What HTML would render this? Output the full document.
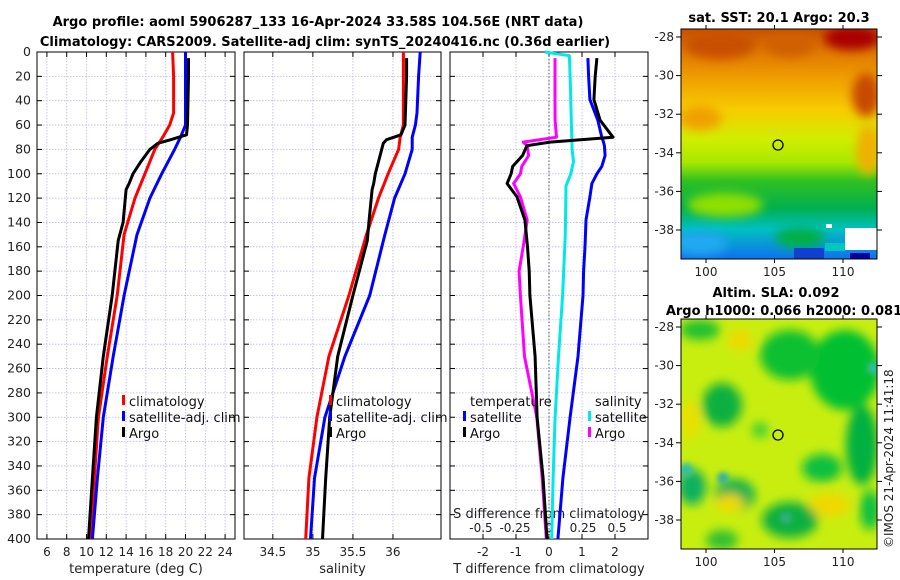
<!DOCTYPE html>
<html><head><meta charset="utf-8">
<style>
html,body{margin:0;padding:0;background:#fff;}
svg{display:block;font-family:"DejaVu Sans","Liberation Sans",sans-serif;}
.t{font-size:13px;font-weight:bold;fill:#000;}
.tk{font-size:12px;fill:#222;}
.lg{font-size:13px;fill:#111;}
</style></head>
<body>
<svg id="c" width="900" height="580" viewBox="0 0 900 580">
<defs>
<filter id="bl" x="-20%" y="-20%" width="140%" height="140%"><feGaussianBlur stdDeviation="5"/></filter>
<filter id="bl2" x="-20%" y="-20%" width="140%" height="140%"><feGaussianBlur stdDeviation="3"/></filter>
<linearGradient id="sst" x1="0" y1="0" x2="0" y2="1">
<stop offset="0" stop-color="#c85000"/><stop offset="0.1" stop-color="#e07800"/>
<stop offset="0.22" stop-color="#f0a000"/><stop offset="0.35" stop-color="#f8cc00"/>
<stop offset="0.48" stop-color="#d0ee00"/><stop offset="0.58" stop-color="#a8e800"/>
<stop offset="0.66" stop-color="#30c020"/><stop offset="0.78" stop-color="#00b050"/>
<stop offset="0.87" stop-color="#00c0c0"/><stop offset="1" stop-color="#1070f0"/>
</linearGradient>
<clipPath id="m1"><rect x="681" y="29" width="196" height="230"/></clipPath>
<clipPath id="m2"><rect x="681" y="319" width="196" height="230"/></clipPath>
</defs>
<text class="t" x="318" y="26" text-anchor="middle">Argo profile: aoml 5906287_133 16-Apr-2024 33.58S 104.56E (NRT data)</text>
<text class="t" x="325" y="46" text-anchor="middle">Climatology: CARS2009. Satellite-adj clim: synTS_20240416.nc (0.36d earlier)</text>

<g id="map1">
<g clip-path="url(#m1)">
<rect x="681" y="29" width="196" height="230" fill="url(#sst)"/>
<g filter="url(#bl)">
<ellipse cx="720" cy="45" rx="35" ry="14" fill="#c85000"/>
<ellipse cx="790" cy="45" rx="25" ry="12" fill="#d06000"/>
<ellipse cx="852" cy="38" rx="28" ry="12" fill="#a80000"/>
<ellipse cx="866" cy="95" rx="14" ry="22" fill="#c84800"/>
<ellipse cx="700" cy="118" rx="22" ry="12" fill="#f0a000"/>
<ellipse cx="868" cy="150" rx="12" ry="25" fill="#f0b000"/>
<ellipse cx="725" cy="205" rx="38" ry="12" fill="#90e000"/>
<ellipse cx="700" cy="243" rx="28" ry="12" fill="#20a8f0"/>
<ellipse cx="800" cy="238" rx="25" ry="10" fill="#00b040"/>
</g>
<rect x="794" y="248" width="30" height="11" fill="#1040d0"/>
<rect x="850" y="253" width="20" height="6" fill="#0000a0"/>
<rect x="845" y="228" width="32" height="22" fill="#ffffff"/>
<rect x="825" y="243" width="20" height="8" fill="#00c8c0"/>
<rect x="826" y="224" width="6" height="4" fill="#fff"/>
</g>
<rect x="681" y="29" width="196" height="230" fill="none" stroke="#000" stroke-width="1"/>
<circle cx="778" cy="145" r="5" fill="none" stroke="#000" stroke-width="1.3"/>
</g>
<text class="t" x="779" y="22" text-anchor="middle">sat. SST: 20.1 Argo: 20.3</text>

<g id="map2">
<g clip-path="url(#m2)">
<rect x="681" y="319" width="196" height="230" fill="#c8ee10"/>
<g filter="url(#bl)">
<ellipse cx="845" cy="370" rx="35" ry="40" fill="#00c030"/>
<ellipse cx="790" cy="355" rx="30" ry="25" fill="#10c030"/>
<ellipse cx="700" cy="330" rx="20" ry="10" fill="#20c030"/>
<ellipse cx="722" cy="405" rx="20" ry="22" fill="#10b040"/>
<ellipse cx="862" cy="445" rx="16" ry="40" fill="#00b040"/>
<ellipse cx="692" cy="487" rx="14" ry="18" fill="#10b060"/>
<ellipse cx="735" cy="495" rx="20" ry="16" fill="#10b050"/>
<ellipse cx="790" cy="520" rx="28" ry="18" fill="#10b040"/>
<ellipse cx="822" cy="468" rx="20" ry="14" fill="#10c040"/>
<ellipse cx="760" cy="430" rx="8" ry="8" fill="#40d030"/>
<ellipse cx="722" cy="540" rx="16" ry="10" fill="#30c030"/>
<ellipse cx="870" cy="510" rx="10" ry="20" fill="#10c040"/>
<ellipse cx="740" cy="340" rx="12" ry="10" fill="#f0d800"/>
<ellipse cx="830" cy="505" rx="20" ry="12" fill="#f0d800"/>
<ellipse cx="730" cy="503" rx="14" ry="9" fill="#f0d800"/>
<ellipse cx="690" cy="420" rx="10" ry="20" fill="#e8e000"/>
</g>
<g filter="url(#bl2)">
<circle cx="686" cy="470" r="7" fill="#30c0a0"/>
<circle cx="723" cy="478" r="6" fill="#30b0a0"/>
<circle cx="786" cy="518" r="6" fill="#30b080"/>
<circle cx="873" cy="368" r="6" fill="#30c0a0"/>
</g>
</g>
<rect x="681" y="319" width="196" height="230" fill="none" stroke="#000" stroke-width="1"/>
<circle cx="778" cy="435" r="5" fill="none" stroke="#000" stroke-width="1.3"/>
</g>
<text class="t" x="776" y="297" text-anchor="middle">Altim. SLA: 0.092</text>
<text class="t" x="784" y="315" text-anchor="middle">Argo h1000: 0.066 h2000: 0.081</text>
<text x="893" y="548" transform="rotate(-90 893 548)" style="font-size:12px;fill:#222">©IMOS 21-Apr-2024 11:41:18</text>
</svg>
<script>
// ---------- data ----------
const depthTicks = [0,20,40,60,80,100,120,140,160,180,200,220,240,260,280,300,320,340,360,380,400];
const tempTicks = [6,8,10,12,14,16,18,20,22,24];
const salTicks = [34.5,35,35.5,36];
const tdiffTicks = [-2,-1,0,1,2];
const sdiffTicks = [-0.5,-0.25,0,0.25,0.5];
const sdiffTickLabels = ["-0.5","-0.25","0","0.25","0.5"];
const latTicks = [-28,-30,-32,-34,-36,-38];
const lonTicks = [100,105,110];

const argoDepth = [5,20,40,60,68,72,75,80,90,100,108,113,140,155,200,250,300,350,400];
const argoTemp  = [20.3,20.3,20.25,20.2,20.1,18.5,17.2,16.4,15.5,14.7,14.3,14.0,13.7,13.2,12.6,11.7,11.0,10.6,10.2];
const climDepth = [0,20,50,60,70,80,100,120,150,200,250,300,350,400];
const climTemp  = [18.7,18.8,18.8,18.4,17.7,16.9,15.9,14.9,13.8,13.1,12.1,11.2,10.8,10.4];
const satTemp   = [20.0,20.0,20.0,20.0,19.5,18.9,17.6,16.4,15.1,13.8,12.7,11.7,11.1,10.6];

const argoSal = [36.17,36.17,36.16,36.15,36.1,35.92,35.88,35.86,35.82,35.78,35.76,35.74,35.7,35.68,35.5,35.31,35.21,35.16,35.12];
const climSal = [36.13,36.13,36.13,36.13,36.09,36.07,35.94,35.82,35.67,35.45,35.2,35.05,34.95,34.91];
const satSal  = [36.34,36.32,36.3,36.28,36.24,36.24,36.15,36.02,35.9,35.71,35.4,35.15,35.02,34.97];

const dDepth = [5,20,39,56,70,74,77,85,94,100,108,119,138,160,180,200,250,300,350,400];
const argoTdiff = [1.45,1.4,1.36,1.55,1.94,0.03,-0.67,-0.8,-1.1,-1.15,-1.27,-0.97,-0.73,-0.65,-0.6,-0.58,-0.42,-0.36,-0.18,-0.06];
const satTdiff  = [1.18,1.2,1.24,1.48,1.6,1.65,1.68,1.7,1.6,1.45,1.3,1.24,1.12,1.09,1.05,1.03,0.88,0.64,0.42,0.27];
const argoSdiff = [0.044,0.044,0.044,0.045,0.055,-0.19,-0.16,-0.15,-0.2,-0.21,-0.26,-0.21,-0.16,-0.19,-0.22,-0.21,-0.18,-0.09,-0.05,-0.02];
const satSdiffDepth = [0,3,20,40,60,80,90,100,110,150,200,250,300,350,400];
const satSdiff  = [-0.03,0.15,0.155,0.16,0.165,0.17,0.18,0.16,0.125,0.12,0.1,0.07,0.045,0.03,0.02];

// ---------- drawing ----------
const NS='http://www.w3.org/2000/svg';
const svg=document.getElementById('c');
function mk(tag,at,parent){const e=document.createElementNS(NS,tag);for(const k in at)e.setAttribute(k,at[k]);(parent||svg).appendChild(e);return e;}
const Y0=52,Y1=539;
const yD=d=>Y0+(d/400)*(Y1-Y0);
function lin(d0,d1,p0,p1){return v=>p0+(v-d0)/(d1-d0)*(p1-p0);}
const xT=lin(5,25,37,235);
const xS=lin(34.14,36.6,244,441);
const xTd=lin(-3,3,450,648);
const xSd=lin(-0.728,0.728,450,648);

function panel(name,x0,x1,xs,ticks,labels,xlabel,labelY){
  const g=mk('g',{});
  
  
  ticks.forEach(t=>{const x=xs(t);mk('line',{x1:x,x2:x,y1:Y0,y2:Y1,stroke:'#b8bce0','stroke-width':0.8,'stroke-dasharray':'1.5 1.5'},g);});
  depthTicks.forEach(d=>{const y=yD(d);mk('line',{x1:x0,x2:x1,y1:y,y2:y,stroke:'#b8bce0','stroke-width':0.8,'stroke-dasharray':'1.5 1.5'},g);
    mk('line',{x1:x0,x2:x0+5,y1:y,y2:y,stroke:'#000'},g);mk('line',{x1:x1-5,x2:x1,y1:y,y2:y,stroke:'#000'},g);});
  ticks.forEach((t,i)=>{const x=xs(t);mk('line',{x1:x,x2:x,y1:Y1-5,y2:Y1,stroke:'#000'},g);mk('line',{x1:x,x2:x,y1:Y0,y2:Y0+5,stroke:'#000'},g);
    if(labels){const tx=mk('text',{x:x,y:Y1+17,'text-anchor':'middle',class:'tk'},g);tx.textContent=labels[i];}});
  mk('rect',{x:x0,y:Y0,width:x1-x0,height:Y1-Y0,fill:'none',stroke:'#000','stroke-width':1},g);
  if(xlabel){const tx=mk('text',{x:(x0+x1)/2,y:labelY,'text-anchor':'middle',class:'tk',style:'font-size:13px'},g);tx.textContent=xlabel;}
  return g;
}
function line(g,xs,vals,depths,col,name,w){
  const pts=vals.map((v,i)=>xs(v).toFixed(1)+','+yD(depths[i]).toFixed(1)).join(' ');
  const p=mk('polyline',{points:pts,fill:'none',stroke:col,'stroke-width':w||3,'stroke-linejoin':'round'},g);
  
  
  return p;
}
depthTicks.forEach(d=>{const t=mk('text',{x:31,y:yD(d)+4,'text-anchor':'end',class:'tk',style:'font-size:12.5px'});t.textContent=d;});

const g1=panel('temperature-panel',37,235,xT,tempTicks,tempTicks.map(String),'temperature (deg C)',573);
line(g1,xT,climTemp,climDepth,'#ff0000','climatology-temp-line');
line(g1,xT,satTemp,climDepth,'#0000ff','satellite-temp-line');
line(g1,xT,argoTemp,argoDepth,'#000000','argo-temp-line');

const g2=panel('salinity-panel',244,441,xS,salTicks,['34.5','35','35.5','36'],'salinity',573);
line(g2,xS,climSal,climDepth,'#ff0000','climatology-sal-line');
line(g2,xS,satSal,climDepth,'#0000ff','satellite-sal-line');
line(g2,xS,argoSal,argoDepth,'#000000','argo-sal-line');

const g3=panel('difference-panel',450,648,xTd,tdiffTicks,tdiffTicks.map(String),'T difference from climatology',573);
sdiffTicks.forEach((s,i)=>{const t=mk('text',{x:xSd(s),y:532,'text-anchor':'middle',class:'tk'},g3);t.textContent=sdiffTickLabels[i];});
const st=mk('text',{x:549,y:518,'text-anchor':'middle',class:'tk',style:'font-size:13px'},g3);st.textContent='S difference from climatology';
mk('line',{x1:xTd(0),x2:xTd(0),y1:Y0,y2:Y1,stroke:'#555','stroke-width':1,'stroke-dasharray':'1.5 2'},g3);
line(g3,xSd,satSdiff,satSdiffDepth,'#00e8e8','satellite-sdiff-line');
line(g3,xTd,satTdiff,dDepth,'#0000ff','satellite-tdiff-line');
line(g3,xSd,argoSdiff,dDepth,'#ff00ff','argo-sdiff-line');
line(g3,xTd,argoTdiff,dDepth,'#000000','argo-tdiff-line');

function leg(x,y,col,label,name){
  const g=mk('g',{});
  
  
  if(col)mk('rect',{x:x,y:y-11,width:3,height:10,fill:col},g);
  const t=mk('text',{x:x+(col?7:0),y:y,class:'lg'},g);t.textContent=label;
}
leg(122,406,'#ff0000','climatology','legend-climatology');
leg(122,422,'#0000ff','satellite-adj. clim','legend-satellite-adj');
leg(122,438,'#000000','Argo','legend-argo');
leg(329,406,'#ff0000','climatology','legend-climatology-sal');
leg(329,422,'#0000ff','satellite-adj. clim','legend-satellite-adj-sal');
leg(329,438,'#000000','Argo','legend-argo-sal');
leg(470,406,null,'temperature','legend-temperature-header');
leg(463,422,'#0000ff','satellite','legend-temp-satellite');
leg(463,438,'#000000','Argo','legend-temp-argo');
leg(595,406,null,'salinity','legend-salinity-header');
leg(588,422,'#00e8e8','satellite','legend-sal-satellite');
leg(588,438,'#ff00ff','Argo','legend-sal-argo');

// map axes: lat labels on the left
const latY1=lin(-28,-38,37,230), latY2=lin(-28,-38,327,520), lonX=lin(100,110,706,843);
[[latY1,29,259],[latY2,319,549]].forEach(([ly,top,bot])=>{
  latTicks.forEach(l=>{const y=ly(l);mk('line',{x1:877,x2:882,y1:y,y2:y,stroke:'#000'});mk('line',{x1:681,x2:676,y1:y,y2:y,stroke:'#000'});
    const t=mk('text',{x:674,y:y+4,'text-anchor':'end',class:'tk'});t.textContent=l;});
  lonTicks.forEach(o=>{const x=lonX(o);mk('line',{x1:x,x2:x,y1:bot,y2:bot+4,stroke:'#000'});mk('line',{x1:x,x2:x,y1:top,y2:top-4,stroke:'#000'});
    const t=mk('text',{x:x,y:bot+17,'text-anchor':'middle',class:'tk'});t.textContent=o;});
});
</script>
</body></html>
